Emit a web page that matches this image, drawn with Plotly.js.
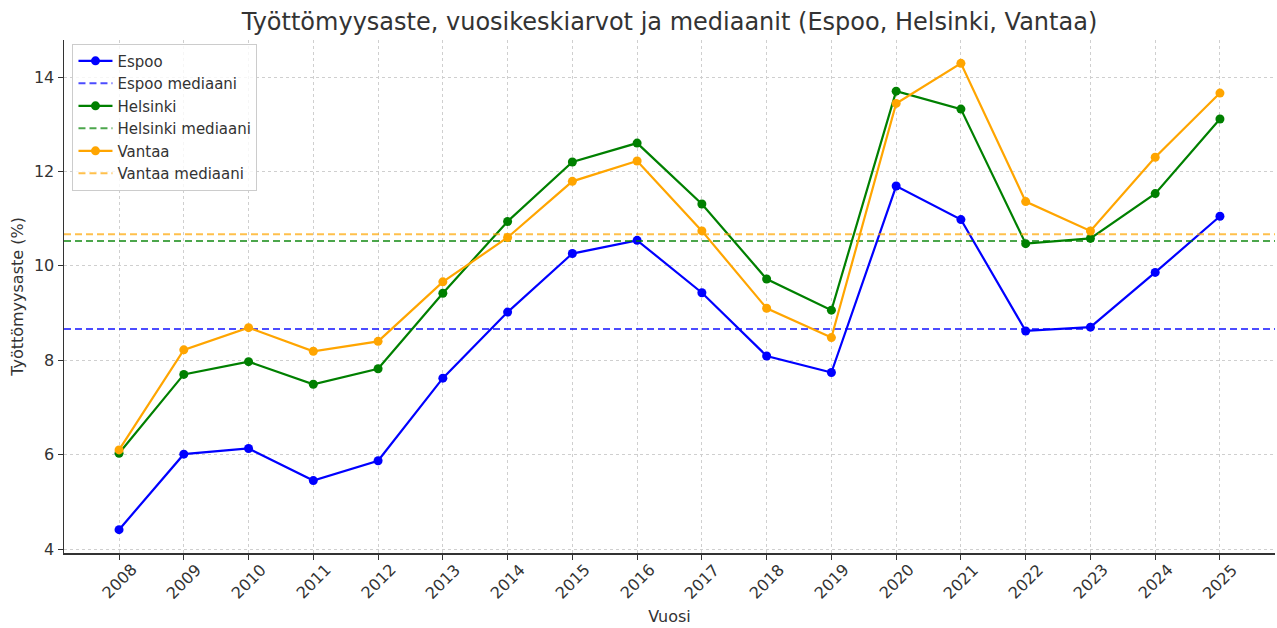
<!DOCTYPE html>
<html>
<head>
<meta charset="utf-8">
<script src="https://cdn.plot.ly/plotly-3.0.1.min.js"></script>
<style>html,body{margin:0;padding:0;background:#fff;}#chart{width:1277px;height:628px;}</style>
</head>
<body>
<div id="chart"></div>
<script>
const years = [2008,2009,2010,2011,2012,2013,2014,2015,2016,2017,2018,2019,2020,2021,2022,2023,2024,2025];
const espoo = [4.41,6.01,6.13,5.45,5.87,7.62,9.02,10.26,10.54,9.43,8.09,7.74,11.69,10.98,8.62,8.70,9.86,11.05];
const helsinki = [6.03,7.70,7.97,7.49,7.82,9.42,10.94,12.20,12.60,11.31,9.72,9.06,13.70,13.32,10.47,10.58,11.53,13.11];
const vantaa = [6.10,8.22,8.69,8.19,8.40,9.66,10.60,11.79,12.22,10.74,9.10,8.48,13.44,14.29,11.36,10.74,12.30,13.66];
const cityNames = ["Espoo","Helsinki","Vantaa"];
const medianLabel = " mediaani";
const titleText = "Työttömyysaste, vuosikeskiarvot ja mediaanit (Espoo, Helsinki, Vantaa)";
const xTitle = "Vuosi";
const yTitle = "Työttömyysaste (%)";
const yTicks = [4,6,8,10,12,14];

function median(a){const s=[...a].sort((p,q)=>p-q);const n=s.length;return n%2?s[(n-1)/2]:(s[n/2-1]+s[n/2])/2;}

const series = [espoo, helsinki, vantaa];
const colors = ["#0000ff","#008000","#ffa500"];
const medColors = ["rgba(0,0,255,0.7)","rgba(0,128,0,0.7)","rgba(255,165,0,0.7)"];

const xmin = Math.min(...years), xmax = Math.max(...years);
const xpad = (xmax-xmin)*0.05;
const xr = [xmin-xpad, xmax+xpad];
const all = [].concat(...series);
const ymin = Math.min(...all), ymax = Math.max(...all);
const ypad = (ymax-ymin)*0.05;
const yr = [ymin-ypad, ymax+ypad];

const traces = [];
series.forEach((s,i)=>{
  traces.push({x:years,y:s,type:"scatter",mode:"lines+markers",name:cityNames[i],
    line:{color:colors[i],width:2.2},marker:{color:colors[i],size:9}});
  const m = median(s);
  traces.push({x:xr,y:[m,m],type:"scatter",mode:"lines",name:cityNames[i]+medianLabel,
    line:{color:medColors[i],width:2,dash:"7px,4px"},hoverinfo:"skip"});
});

const tickAnn = years.map(yv=>({x:yv,xref:"x",y:0,yref:"paper",yanchor:"middle",xanchor:"center",
  yshift:-28,text:String(yv),textangle:-45,showarrow:false,font:{size:16,color:"#333"}}));

const font = {family:"DejaVu Sans, sans-serif",color:"#333"};
const layout = {
  width:1277,height:628,
  margin:{l:64,r:2,t:40,b:75},
  paper_bgcolor:"#fff",plot_bgcolor:"#fff",
  font:Object.assign({size:15},font),
  title:{text:titleText,font:Object.assign({},font,{size:24}),x:0.5,xref:"paper",xanchor:"center",y:0.965,yanchor:"middle"},
  xaxis:{range:xr,tickvals:years,showticklabels:false,
    showgrid:true,gridcolor:"#cfcfcf",griddash:"3px,3px",gridwidth:1,
    zeroline:false,showline:true,linecolor:"#333",linewidth:1.5,
    ticks:"outside",ticklen:5,tickcolor:"#333",
    title:{text:xTitle,font:{size:16,color:"#333"},standoff:52}},
  yaxis:{range:yr,tickvals:yTicks,
    showgrid:true,gridcolor:"#cfcfcf",griddash:"3px,3px",gridwidth:1,
    zeroline:false,showline:true,linecolor:"#333",linewidth:1.5,
    ticks:"outside",ticklen:5,tickcolor:"#333",tickfont:{size:16,color:"#333"},
    title:{text:yTitle,font:{size:16,color:"#333"},standoff:6}},
  legend:{x:0.007,y:0.993,xanchor:"left",yanchor:"top",bgcolor:"rgba(255,255,255,0.8)",
    bordercolor:"#cccccc",borderwidth:1,font:{size:15,color:"#333"},tracegroupgap:0,itemwidth:34},
  annotations:tickAnn,
  showlegend:true
};
Plotly.newPlot("chart",traces,layout,{displayModeBar:false,staticPlot:true});
</script>
</body>
</html>
